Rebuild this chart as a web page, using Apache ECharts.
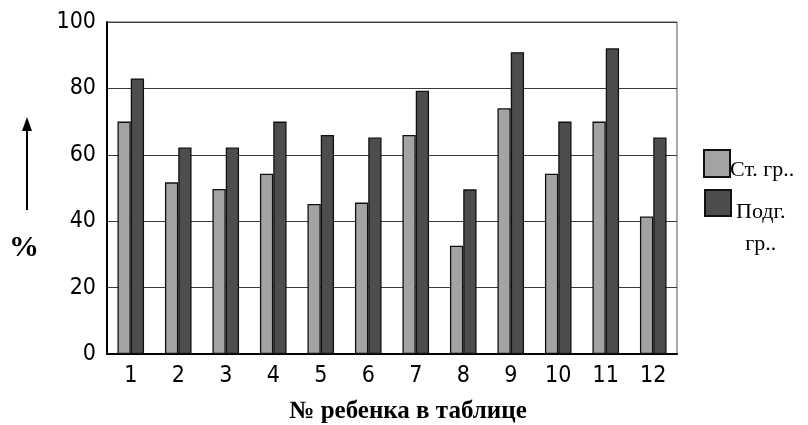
<!DOCTYPE html>
<html><head><meta charset="utf-8">
<script src="https://cdn.jsdelivr.net/npm/echarts@6/dist/echarts.min.js"></script>
<style>html,body{margin:0;padding:0;background:#fff}#c{width:808px;height:425px}</style>
</head><body><div id="c"></div>
<script>
var categories = ['1','2','3','4','5','6','7','8','9','10','11','12'];
var seriesNames = ['Ст. гр..', 'Подг. гр..'];
var stValues = [70, 51.7, 49.7, 54.3, 45.2, 45.6, 66, 32.6, 74, 54.3, 70, 41.4];
var podgValues = [83, 62.2, 62.2, 70, 66, 65.2, 79.3, 49.6, 90.9, 70, 92.1, 65.2];
var yTicks = [0, 20, 40, 60, 80, 100];

var chart = echarts.init(document.getElementById('c'), null, {renderer: 'canvas'});
var labelFont = 'DejaVu Sans Condensed';
var serif = 'Liberation Serif';
chart.setOption({
  animation: false,
  backgroundColor: '#fff',
  grid: {left: 107, right: 131, top: 22, bottom: 71, show: true, borderColor: '#555', borderWidth: 1,
         containLabel: false, outerBoundsMode: 'none'},
  xAxis: {
    type: 'category', data: categories,
    axisLine: {lineStyle: {color: '#000', width: 2}},
    axisTick: {show: false},
    axisLabel: {fontFamily: labelFont, fontSize: 23, color: '#000', margin: 11},
    name: '№ ребенка в таблице', nameLocation: 'middle', nameGap: 45,
    nameTextStyle: {fontFamily: serif, fontWeight: 'bold', fontSize: 25, color: '#000', padding: [0, 0, 0, 32]}
  },
  yAxis: {
    type: 'value', min: yTicks[0], max: yTicks[yTicks.length - 1], interval: 20,
    axisLine: {show: true, lineStyle: {color: '#000', width: 2}},
    axisTick: {show: false},
    axisLabel: {fontFamily: labelFont, fontSize: 23, color: '#000', margin: 11},
    splitLine: {lineStyle: {color: '#3a3a3a', width: 1.2}}
  },
  legend: [
    {data: [seriesNames[0]], orient: 'vertical', left: 703, top: 149, padding: 0,
     itemWidth: 26, itemHeight: 27, icon: 'rect',
     formatter: function (n) { return '{a|' + n + '}'; },
     textStyle: {fontFamily: serif, fontSize: 22, color: '#000',
       rich: {a: {fontFamily: serif, fontSize: 22, color: '#000', padding: [14, 0, 0, -5]}}}},
    {data: [seriesNames[1]], orient: 'vertical', left: 704, top: 189, padding: 0,
     itemWidth: 26, itemHeight: 26, icon: 'rect',
     formatter: function () { return '{a|Подг.}\n{a|гр..}'; },
     textStyle: {fontFamily: serif, fontSize: 22, color: '#000', padding: [50, 0, 0, 0],
       rich: {a: {fontFamily: serif, fontSize: 22, color: '#000', align: 'center', lineHeight: 32}}}}
  ],
  series: [
    {name: seriesNames[0], type: 'bar', data: stValues, barGap: '0%', barCategoryGap: '44%',
     itemStyle: {color: '#a3a3a3', borderColor: '#111', borderWidth: 1.3}},
    {name: seriesNames[1], type: 'bar', data: podgValues, barGap: '0%', barCategoryGap: '44%',
     itemStyle: {color: '#4d4d4d', borderColor: '#111', borderWidth: 1.3}}
  ],
  graphic: [
    {type: 'line', shape: {x1: 27, y1: 210, x2: 27, y2: 128}, style: {stroke: '#000', lineWidth: 2}},
    {type: 'polygon', shape: {points: [[22, 131], [32, 131], [27, 117]]}, style: {fill: '#000'}},
    {type: 'text', x: 24, y: 248, style: {text: '%', fontFamily: serif, fontWeight: 'bold', fontSize: 30, fill: '#000', align: 'center', verticalAlign: 'middle'}}
  ]
});
</script></body></html>
